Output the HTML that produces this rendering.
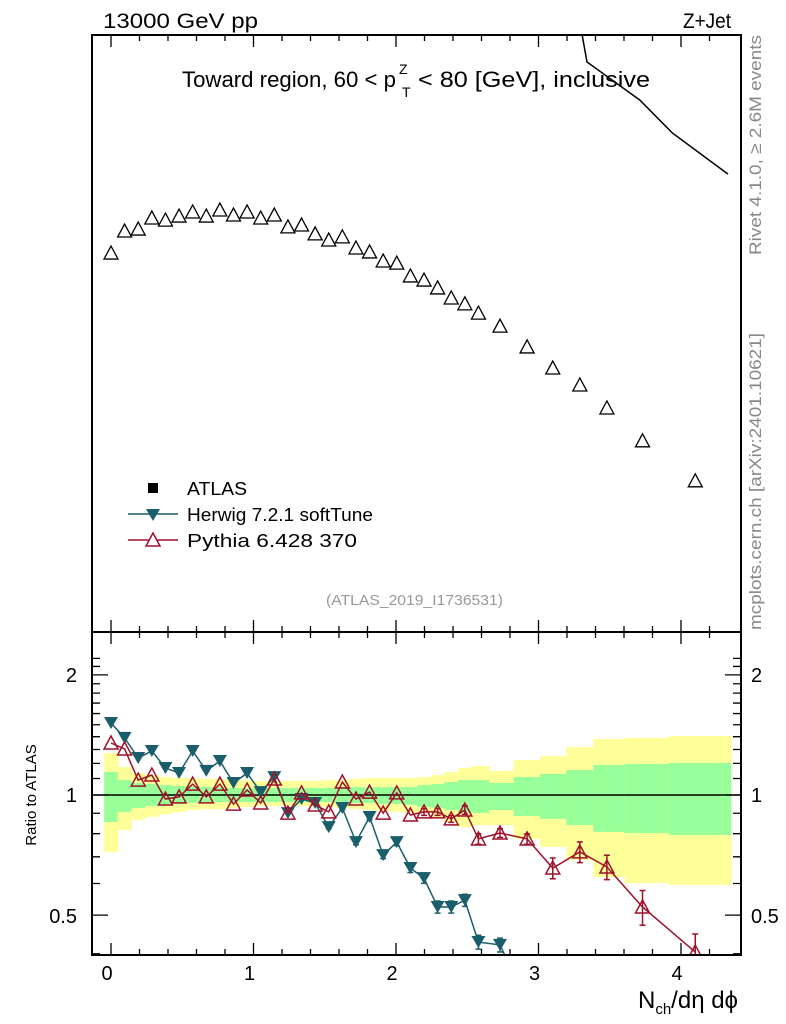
<!DOCTYPE html>
<html><head><meta charset="utf-8">
<style>
html,body{margin:0;padding:0;background:#fff;}
svg{display:block;font-family:"Liberation Sans",Arial,sans-serif;}
</style></head>
<body>
<svg id="chart" width="786" height="1024" viewBox="0 0 786 1024" xmlns="http://www.w3.org/2000/svg">
<defs>
<clipPath id="clipMain"><rect x="92" y="35" width="649" height="597"/></clipPath>
<clipPath id="clipRatio"><rect x="92" y="632" width="649" height="323"/></clipPath>
</defs>
<g id="bands" clip-path="url(#clipRatio)"></g>
<g id="ratioMarks" clip-path="url(#clipRatio)"></g>
<g id="mainMarks" clip-path="url(#clipMain)"></g>
<g id="axes"></g>
<rect x="92" y="35" width="649" height="597" fill="none" stroke="#000" stroke-width="2"/>
<rect x="92" y="632" width="649" height="323" fill="none" stroke="#000" stroke-width="2"/>
<text x="103" y="28" font-size="21" textLength="155" lengthAdjust="spacingAndGlyphs">13000 GeV pp</text>
<text x="683" y="28" font-size="21" textLength="48" lengthAdjust="spacingAndGlyphs">Z+Jet</text>
<g>
<text x="182" y="87" font-size="22" textLength="214" lengthAdjust="spacingAndGlyphs">Toward region, 60 &lt; p</text>
<text x="399" y="74" font-size="14">Z</text>
<text x="402" y="97" font-size="14">T</text>
<text x="418" y="87" font-size="22" textLength="232" lengthAdjust="spacingAndGlyphs">&lt; 80 [GeV], inclusive</text>
</g>
<text transform="translate(761,255) rotate(-90)" font-size="17" fill="#888" textLength="220" lengthAdjust="spacingAndGlyphs">Rivet 4.1.0, ≥ 2.6M events</text>
<text transform="translate(761,630) rotate(-90)" font-size="17" fill="#888" textLength="297" lengthAdjust="spacingAndGlyphs">mcplots.cern.ch [arXiv:2401.10621]</text>
<text x="326" y="605" font-size="15" fill="#999" textLength="177" lengthAdjust="spacingAndGlyphs">(ATLAS_2019_I1736531)</text>
<g>
<rect x="148" y="483" width="10" height="10" fill="#000"/>
<text x="187" y="495" font-size="18" textLength="60" lengthAdjust="spacingAndGlyphs">ATLAS</text>
<line x1="128" y1="514" x2="178" y2="514" stroke="#1b5e6b" stroke-width="1.5"/>
<path d="M146,509 L160,509 L153,521 Z" fill="#1b5e6b"/>
<text x="187" y="521" font-size="18" textLength="186" lengthAdjust="spacingAndGlyphs">Herwig 7.2.1 softTune</text>
<line x1="128" y1="540" x2="178" y2="540" stroke="#a0102a" stroke-width="1.5"/>
<path d="M153,533 L160,546 L146,546 Z" fill="#fff" stroke="#a0102a" stroke-width="1.5"/>
<text x="187" y="547" font-size="18" textLength="170" lengthAdjust="spacingAndGlyphs">Pythia 6.428 370</text>
</g>
<text x="77" y="682" font-size="20" text-anchor="end">2</text>
<text x="77" y="802" font-size="20" text-anchor="end">1</text>
<text x="77" y="923" font-size="20" text-anchor="end">0.5</text>
<text x="751" y="682" font-size="20">2</text>
<text x="751" y="802" font-size="20">1</text>
<text x="751" y="923" font-size="20">0.5</text>
<text transform="translate(36,795) rotate(-90)" font-size="15" text-anchor="middle">Ratio to ATLAS</text>
<text x="738" y="1008" font-size="24" text-anchor="end">N<tspan font-size="15" dy="6">ch</tspan><tspan dy="-6">/dη dϕ</tspan></text>
</svg>
<script>
const xVals = [0,0.0955,0.191,0.2865,0.382,0.4775,0.573,0.6685,0.764,0.8595,0.955,1.0505,1.146,1.2415,1.337,1.4325,1.528,1.6235,1.719,1.8145,1.91,2.0055,2.101,2.1965,2.292,2.3875,2.483,2.5785,2.73,2.92,3.10,3.29,3.48,3.73,4.10];
const mainVals = [0.346,0.486,0.501,0.594,0.575,0.612,0.652,0.612,0.672,0.622,0.652,0.594,0.622,0.518,0.533,0.465,0.423,0.444,0.374,0.352,0.306,0.296,0.243,0.228,0.202,0.173,0.158,0.137,0.112,0.0813,0.0587,0.0452,0.0317,0.0191,0.0103];
const lineX = [3.10,3.31,3.34,3.71,3.94,4.33];
const lineVals = [140,9.55,6.59,3.67,2.20,1.17];
const herwigRatio = [1.515,1.390,1.238,1.289,1.169,1.135,1.289,1.149,1.217,1.072,1.135,1.017,1.109,0.901,0.977,0.955,0.831,0.928,0.762,0.881,0.707,0.762,0.656,0.619,0.524,0.524,0.545,0.428,0.421,0.30];
const herwigErr = [0,0,0,0,0,0,0,0,0,0,0,0,0,0,0,0.01,0.01,0.01,0.015,0.015,0.02,0.02,0.025,0.03,0.035,0.035,0.035,0.04,0.04,0.04];
const pythiaRatio = [1.350,1.304,1.090,1.122,0.977,0.989,1.065,0.989,1.065,0.949,1.029,0.955,1.097,0.901,1.012,0.944,0.907,1.078,0.977,1.017,0.901,1.012,0.891,0.907,0.907,0.871,0.917,0.776,0.803,0.776,0.656,0.720,0.660,0.524,0.404];
const pythiaErr = [0,0,0,0,0,0,0,0,0,0,0,0,0,0,0,0,0,0,0,0,0,0,0,0.02,0.02,0.02,0.025,0.03,0.025,0.03,0.06,0.06,0.07,0.10,0.11];
const yellowHi = [1.274,1.175,1.135,1.122,1.109,1.103,1.103,1.097,1.097,1.090,1.090,1.084,1.084,1.084,1.084,1.084,1.090,1.090,1.097,1.103,1.103,1.103,1.103,1.109,1.122,1.142,1.169,1.182,1.149,1.224,1.252,1.319,1.381,1.390,1.406];
const yellowLo = [0.719,0.817,0.866,0.881,0.896,0.907,0.917,0.922,0.922,0.928,0.933,0.939,0.939,0.939,0.939,0.933,0.933,0.928,0.922,0.917,0.912,0.907,0.902,0.902,0.881,0.856,0.831,0.841,0.841,0.776,0.741,0.687,0.623,0.602,0.595];
const greenHi = [1.142,1.090,1.072,1.065,1.059,1.053,1.053,1.047,1.047,1.041,1.041,1.041,1.041,1.041,1.041,1.041,1.041,1.047,1.047,1.047,1.047,1.047,1.047,1.059,1.065,1.078,1.090,1.090,1.072,1.109,1.129,1.155,1.189,1.196,1.203];
const greenLo = [0.856,0.907,0.928,0.939,0.944,0.949,0.955,0.955,0.960,0.960,0.960,0.960,0.960,0.960,0.960,0.960,0.960,0.960,0.955,0.955,0.949,0.949,0.944,0.933,0.928,0.917,0.902,0.902,0.917,0.886,0.871,0.841,0.808,0.803,0.794];
const xTickLabels = ["0","1","2","3","4"];

const NS = "http://www.w3.org/2000/svg";
const X0 = 111, XS = 142.5;
function xPix(v){ return X0 + XS*v; }
function yMain(v){ return 632 - 149.25*(Math.log10(v)+3); }
function yRatio(r){ return 795 - 399*Math.log10(r); }
function mk(parent, tag, attrs){ const e=document.createElementNS(NS,tag); for(const k in attrs) e.setAttribute(k,attrs[k]); parent.appendChild(e); return e; }

const edges=[];
for(let i=0;i<=xVals.length;i++){
  if(i===0) edges.push(xVals[0]-(xVals[1]-xVals[0])/2);
  else if(i===xVals.length) edges.push(4.35);
  else edges.push((xVals[i-1]+xVals[i])/2);
}
const bands=document.getElementById('bands');
for(let i=0;i<xVals.length;i++){
  const x1=xPix(edges[i]), x2=xPix(edges[i+1]);
  const y=mk(bands,'rect',{x:x1,y:yRatio(yellowHi[i]),width:x2-x1+0.5,height:yRatio(yellowLo[i])-yRatio(yellowHi[i]),fill:'#ffff99'});
  
  
  const g=mk(bands,'rect',{x:x1,y:yRatio(greenHi[i]),width:x2-x1+0.5,height:yRatio(greenLo[i])-yRatio(greenHi[i]),fill:'#99ff99'});
  
  
}
const one=mk(bands,'line',{x1:92,x2:741,y1:yRatio(1),y2:yRatio(1),stroke:'#000','stroke-width':1.5});



const rm=document.getElementById('ratioMarks');
function series(vals, errs, color, down, name){
  let d='';
  vals.forEach((v,i)=>{ d+=(i?'L':'M')+xPix(xVals[i]).toFixed(1)+','+yRatio(v).toFixed(1); });
  const p=mk(rm,'path',{d:d,fill:'none',stroke:color,'stroke-width':1.5});
  
  
  vals.forEach((v,i)=>{
    const cx=xPix(xVals[i]), cy=yRatio(v);
    if(errs[i]>0){
      const yt=yRatio(v*(1+errs[i])), yb=yRatio(v*(1-errs[i]));
      const e=mk(rm,'path',{d:`M${cx},${yt}L${cx},${yb}M${cx-3},${yt}L${cx+3},${yt}M${cx-3},${yb}L${cx+3},${yb}`,stroke:color,'stroke-width':1.5,fill:'none'});
      
      
    }
    let m;
    if(down) m=mk(rm,'path',{d:`M${cx-7},${cy-6}L${cx+7},${cy-6}L${cx},${cy+6}Z`,fill:color});
    else m=mk(rm,'path',{d:`M${cx},${cy-7}L${cx+7},${cy+6}L${cx-7},${cy+6}Z`,fill:'none',stroke:color,'stroke-width':1.5});
    
    
  });
}
series(herwigRatio, herwigErr, '#1b5e6b', true, 'herwig');
series(pythiaRatio, pythiaErr, '#a0102a', false, 'pythia');

const mm=document.getElementById('mainMarks');
mainVals.forEach((v,i)=>{
  const cx=xPix(xVals[i]), cy=yMain(v);
  const m=mk(mm,'path',{d:`M${cx},${cy-7}L${cx+7},${cy+6}L${cx-7},${cy+6}Z`,fill:'none',stroke:'#000','stroke-width':1.3});
  
  
});
let ld='';
lineVals.forEach((v,i)=>{ ld+=(i?'L':'M')+xPix(lineX[i]).toFixed(1)+','+yMain(v).toFixed(1); });
const ml=mk(mm,'path',{d:ld,fill:'none',stroke:'#000','stroke-width':1.5});



const ax=document.getElementById('axes');
let td='';
for(let k=-0.6;k<=4.4;k+=0.2){
  const v=Math.round(k*10)/10;
  if(v<-0.13||v>4.42) continue;
  const major=Math.abs(v-Math.round(v))<1e-6;
  const L=major?12:6, x=xPix(v);
  td+=`M${x},955L${x},${955-L}M${x},632L${x},${632+L}M${x},632L${x},${632-L}M${x},35L${x},${35+L}`;
}
[0.4,0.5,0.6,0.7,0.8,0.9,1,1.1,1.2,1.3,1.4,1.5,1.6,1.7,1.8,1.9,2,2.1,2.2].forEach(r=>{
  const y=yRatio(r); if(y<633||y>954) return;
  const major=(r===0.5||r===1||r===2);
  const L=major?16:8;
  td+=`M92,${y}L${92+L},${y}M741,${y}L${741-L},${y}`;
});
const tk=mk(ax,'path',{d:td,stroke:'#000','stroke-width':1.3,fill:'none'});


xTickLabels.forEach((t,i)=>{
  const e=mk(ax,'text',{x:xPix(i)-4,y:980,'font-size':20,'text-anchor':'middle'});
  e.textContent=t;
  
  
});
</script>
</body></html>
